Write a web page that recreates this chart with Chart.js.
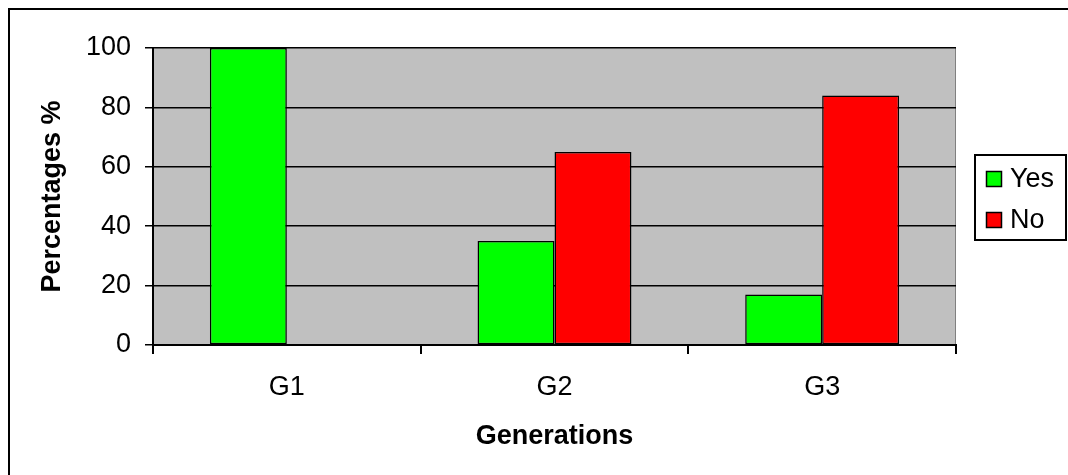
<!DOCTYPE html>
<html>
<head>
<meta charset="utf-8">
<script src="https://cdn.jsdelivr.net/npm/chart.js@4"></script>
<style>
  html, body { margin: 0; padding: 0; background: #fff; }
  #wrap { width: 1068px; height: 475px; position: relative; }
</style>
</head>
<body>
<div id="wrap"><canvas id="genChart"></canvas></div>
<script>
const categories = ["G1", "G2", "G3"];
const yesValues = [100, 35, 17];
const noValues = [0, 65, 84];
const seriesNames = ["Yes", "No"];
const yTicks = [0, 20, 40, 60, 80, 100];

const FONT = "'Liberation Sans', Arial, sans-serif";

// gray plot background + outer frame
const frame = {
  id: "frame",
  beforeDraw(chart) {
    const { ctx, chartArea: a } = chart;
    ctx.save();
    ctx.fillStyle = "#C0C0C0";
    ctx.fillRect(a.left, a.top, a.right - a.left, a.bottom - a.top);
    ctx.strokeStyle = "#808080";
    ctx.lineWidth = 1;
    ctx.beginPath();
    ctx.moveTo(a.right - 0.5, a.top);
    ctx.lineTo(a.right - 0.5, a.bottom);
    ctx.stroke();
    ctx.strokeStyle = "#000";
    ctx.lineWidth = 2;
    ctx.beginPath();
    ctx.moveTo(9, 475);
    ctx.lineTo(9, 9);
    ctx.lineTo(1068, 9);
    ctx.stroke();
    ctx.restore();
  },
  afterDraw(chart) {
    // legend box on the right
    const ctx = chart.ctx;
    const x = 975, y = 155, w = 91, h = 85;
    ctx.save();
    ctx.fillStyle = "#fff";
    ctx.fillRect(x, y, w, h);
    ctx.strokeStyle = "#000";
    ctx.lineWidth = 2;
    ctx.strokeRect(x, y, w, h);
    ctx.font = "27px " + FONT;
    ctx.textBaseline = "middle";
    chart.data.datasets.forEach((ds, i) => {
      const cy = 179 + i * 41;
      ctx.fillStyle = ds.backgroundColor;
      ctx.fillRect(986, cy - 8, 16, 16);
      ctx.lineWidth = 1.5;
      ctx.strokeRect(986.5, cy - 7.5, 15, 15);
      ctx.fillStyle = "#000";
      ctx.fillText(ds.label, 1010, cy + 1);
    });
    ctx.restore();
  }
};

new Chart(document.getElementById("genChart"), {
  type: "bar",
  data: {
    labels: categories,
    datasets: [
      { label: seriesNames[0], data: yesValues, backgroundColor: "#00FF00", borderColor: "#000", borderWidth: 1.5, borderSkipped: false },
      { label: seriesNames[1], data: noValues, backgroundColor: "#FF0000", borderColor: "#000", borderWidth: 1.5, borderSkipped: false }
    ]
  },
  options: {
    responsive: true,
    maintainAspectRatio: false,
    animation: false,
    layout: { padding: { top: 48, right: 112, bottom: 0, left: 0 } },
    datasets: { bar: { categoryPercentage: 0.575, barPercentage: 1 } },
    plugins: { legend: { display: false }, tooltip: { enabled: false } },
    scales: {
      x: {
        grid: { display: true, drawOnChartArea: false, drawTicks: true, tickLength: 9, color: "#000", lineWidth: 2, offset: true },
        border: { color: "#000", width: 2 },
        ticks: { color: "#000", font: { family: FONT, size: 27 }, padding: 17 },
        title: { display: true, text: "Generations", color: "#000", font: { family: FONT, size: 27, weight: "bold" }, padding: 22 },
        afterFit(s) { s.height = 130; }
      },
      y: {
        min: 0,
        max: 100,
        afterBuildTicks(s) { s.ticks = yTicks.map(v => ({ value: v })); },
        grid: { color: "#000", lineWidth: 1.5, tickLength: 8 },
        border: { color: "#000", width: 2 },
        ticks: { color: "#000", font: { family: FONT, size: 27 }, padding: 14 },
        title: { display: true, text: "Percentages %", color: "#000", font: { family: FONT, size: 27, weight: "bold" }, padding: 36 },
        afterFit(s) { s.width = 153; }
      }
    }
  },
  plugins: [frame]
});
</script>
</body>
</html>
